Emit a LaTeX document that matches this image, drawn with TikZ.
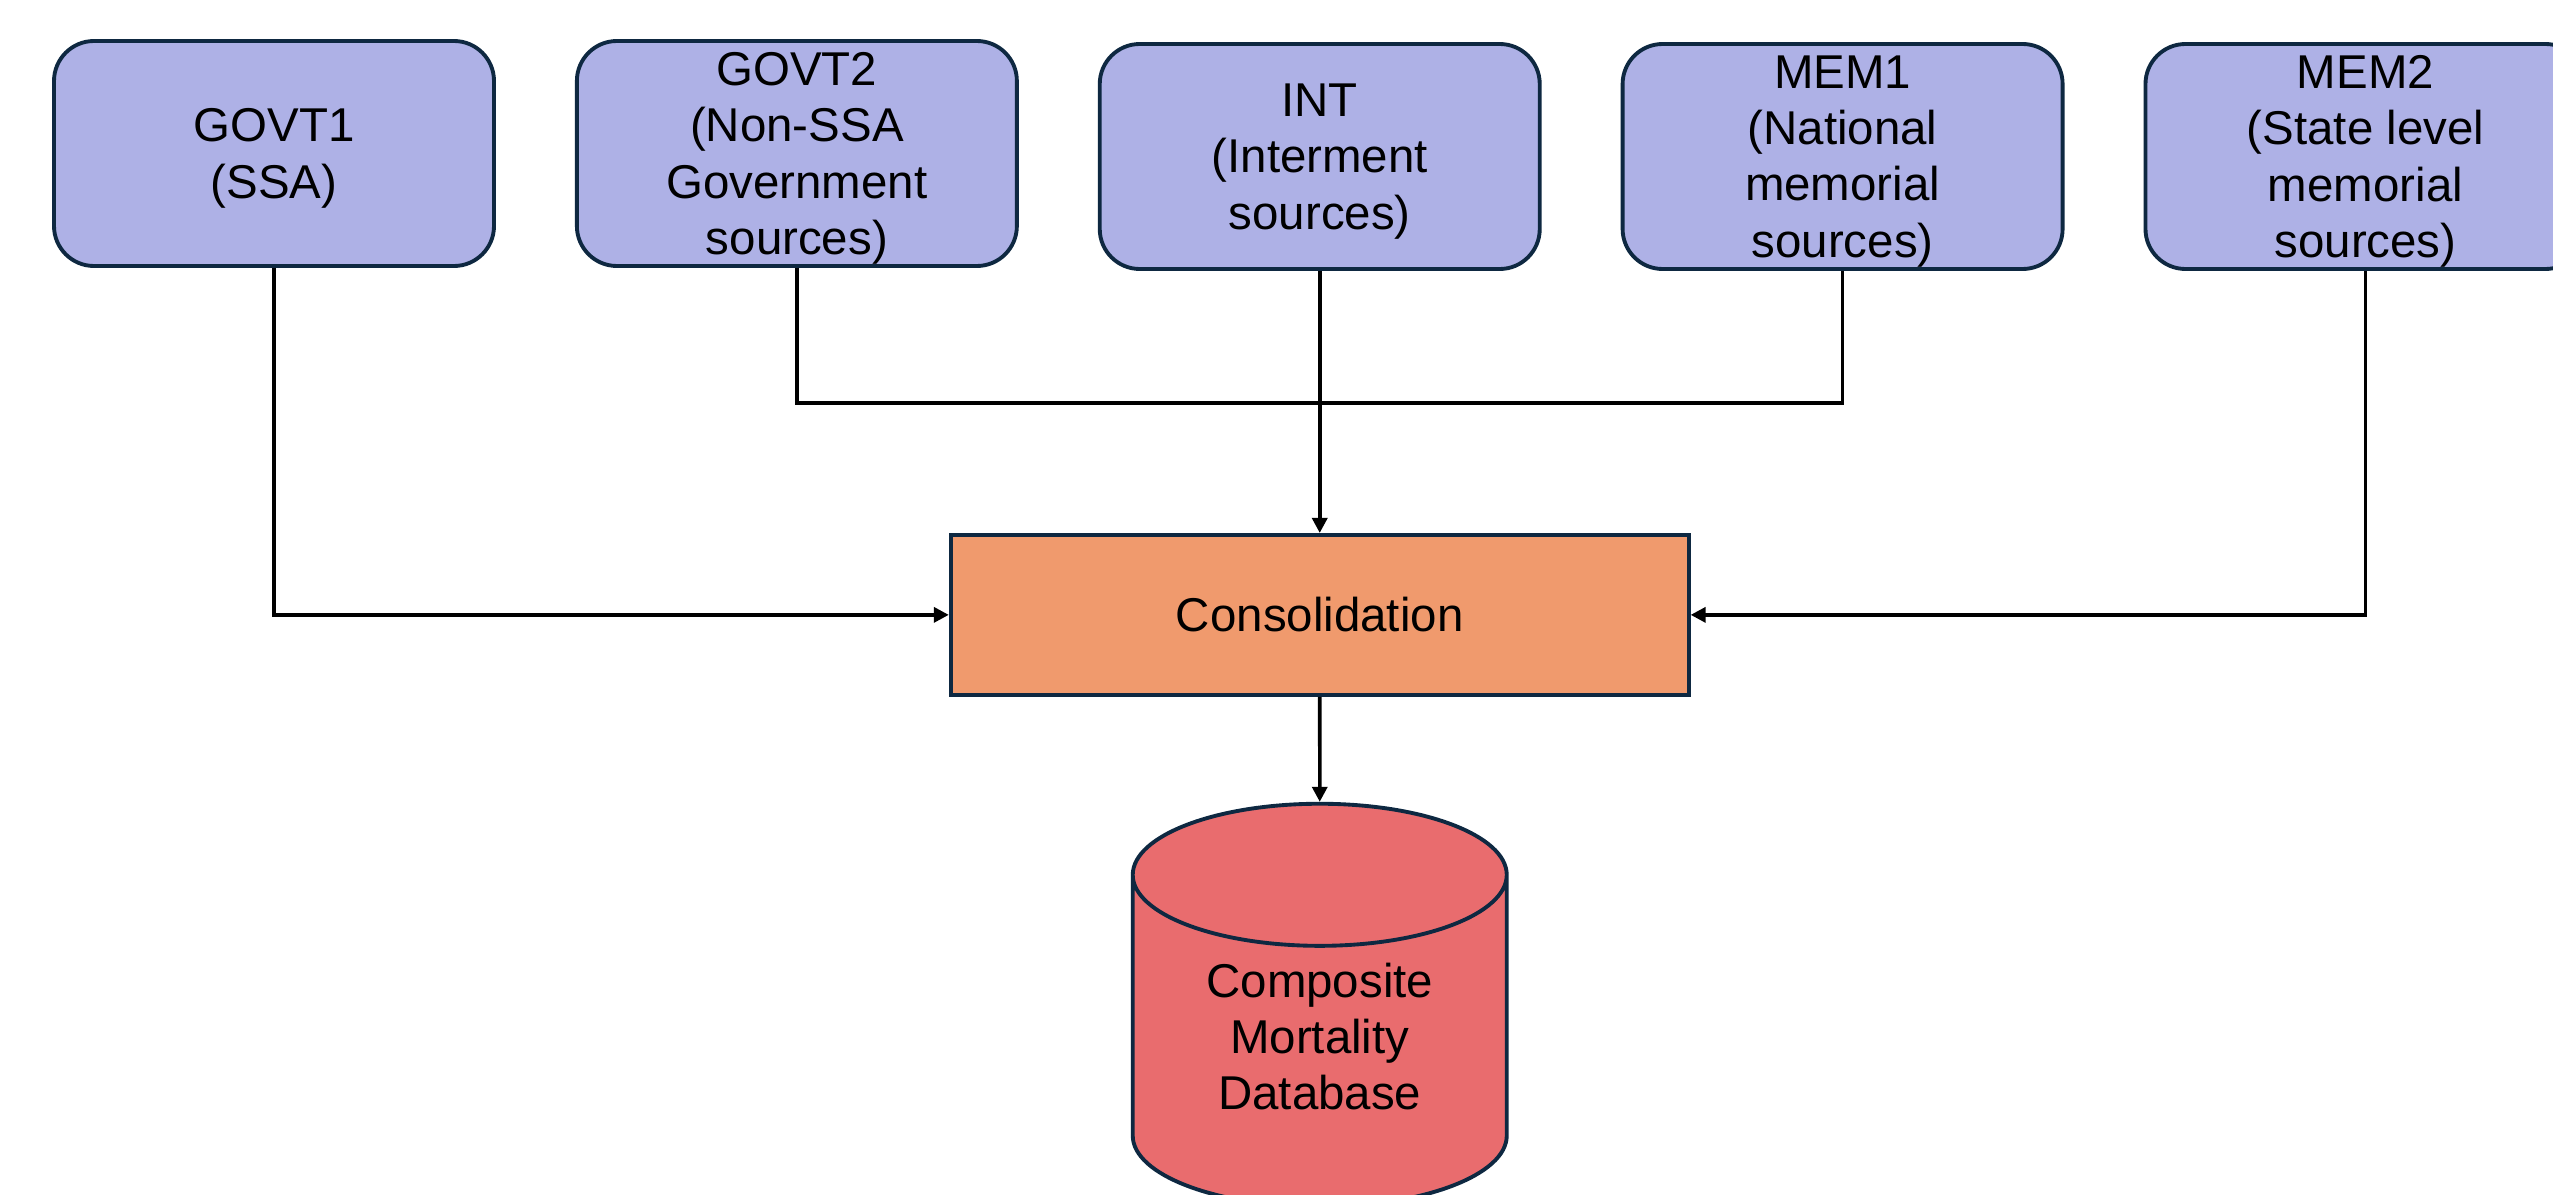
\documentclass[tikz,border=0pt]{standalone}
\usepackage{fontspec}
\setmainfont{Liberation Sans}
\usetikzlibrary{positioning,shapes.geometric,arrows.meta}
\definecolor{srcblue}{HTML}{AEB1E6}
\definecolor{consorange}{HTML}{F09A6D}
\definecolor{dbred}{HTML}{E96C6E}
\definecolor{darkedge}{HTML}{0E2841}
\tikzset{ src/.style={draw=darkedge,line width=1.1pt,fill=srcblue,rounded corners=0.4cm,minimum width=4.4cm,minimum height=2.25cm,align=center,inner sep=2pt,text depth=0pt},
  cons/.style={draw=darkedge,line width=1.1pt,fill=consorange,minimum width=7.38cm,minimum height=1.6cm},
  db/.style={draw=darkedge,line width=1.1pt,fill=dbred,cylinder,shape border rotate=90,aspect=0.59,minimum width=3.74cm,minimum height=4.03cm,align=center,inner sep=2pt,text depth=0.3cm},
  flow/.style={line width=1pt,-{Triangle[length=1.5mm,width=1.5mm]}},
  link/.style={line width=1pt} }

\begin{document}
\begin{tikzpicture}[font=\fontsize{13.5}{16}\selectfont]
   \useasboundingbox[fill=white] (0,0) rectangle (25.53,11.94);
   \node[src] (govt1) at (2.74,10.405) {GOVT1\\(SSA)};
   \node[src,right=0.79cm of govt1] (govt2) {GOVT2\\(Non-SSA\\Government\\sources)};
   \node[src,right=0.79cm of govt2,yshift=-0.03cm] (int) {INT\\(Interment\\sources)};
   \node[src,right=0.79cm of int] (mem1) {MEM1\\(National\\memorial\\sources)};
   \node[src,right=0.79cm of mem1] (mem2) {MEM2\\(State level\\memorial\\sources)};
   \node[cons,below=2.62cm of int] (consol) {Consolidation};
   \node[db,below=1.05cm of consol] (cmdb) {Composite\\Mortality\\Database};
   \coordinate[below=1.32cm of int.south] (join);
   \draw[link] (govt2.south) |- (join);
   \draw[link] (mem1.south) |- (join);
   \draw[flow] (int.south) -- (consol.north);
   \draw[flow] (govt1.south) |- (consol.west);
   \draw[flow] (mem2.south) |- (consol.east);
   \draw[flow] (consol.south) -- (cmdb.top);
  \end{tikzpicture}
\end{document}
